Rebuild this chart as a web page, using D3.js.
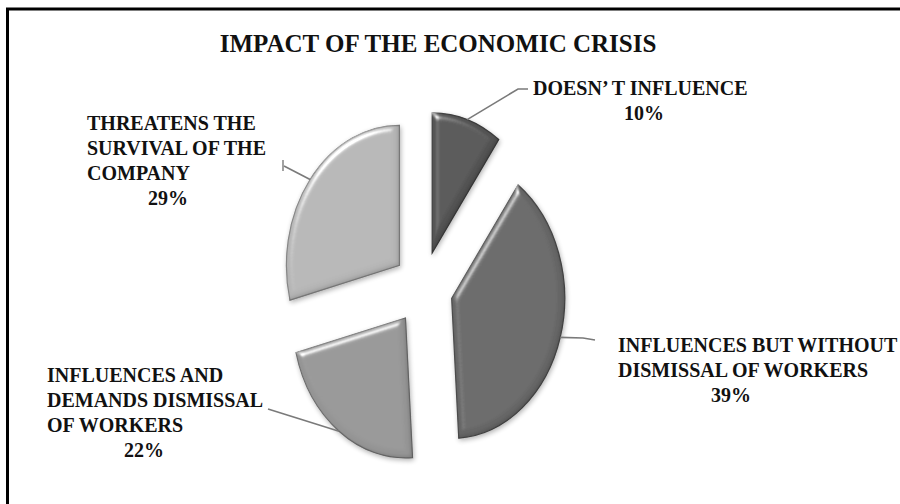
<!DOCTYPE html>
<html>
<head>
<meta charset="utf-8">
<script src="https://cdn.jsdelivr.net/npm/d3@7"></script>
<style>
  html, body { margin: 0; padding: 0; background: #fff; }
  svg { display: block; }
  text { font-family: "Liberation Serif", "Times New Roman", serif; font-weight: bold; fill: #111; }
</style>
</head>
<body>
<svg id="chart" width="900" height="504"></svg>
<script>
// ---- data ----
const chartTitle = "IMPACT OF THE ECONOMIC CRISIS";
const categories = [
  "DOESN’ T INFLUENCE",
  "INFLUENCES BUT WITHOUT DISMISSAL OF WORKERS",
  "INFLUENCES AND DEMANDS DISMISSAL OF WORKERS",
  "THREATENS THE SURVIVAL OF THE COMPANY"
];
const labelLines = [
  ["DOESN’ T INFLUENCE"],
  ["INFLUENCES BUT WITHOUT", "DISMISSAL OF WORKERS"],
  ["INFLUENCES AND", "DEMANDS DISMISSAL", "OF WORKERS"],
  ["THREATENS THE", "SURVIVAL OF THE", "COMPANY"]
];
const values = [10, 39, 22, 29];
const percentLabels = ["10%", "39%", "22%", "29%"];

// ---- layout / style ----
const W = 900, H = 504;
const cx = 423, cy = 288;          // pie centre
const ry = 140, rx = 113;          // oval pie radii
const sx = rx / ry;
const explode = 37;                // slice pull-out distance
const sliceColors = ["#555555", "#676767", "#969696", "#b6b6b6"];
const lineGap = 25;
// left edge / first baseline of each label block, centre of its percentage, leader bends
const labelLayout = [
  { x: 533, y: 95,  pctX: 644, bends: [[518, 89], [528, 89]] },
  { x: 618, y: 352, pctX: 731, bends: [[583, 338], [595, 340]] },
  { x: 47,  y: 382, pctX: 144, bends: [[268, 409]] },
  { x: 87,  y: 130, pctX: 168, bends: [[284, 166]] }
];

const svg = d3.select("#chart");

// bevel: top-left highlight, bottom-right inner rim shade, soft drop shadow
const defs = svg.append("defs");
const f = defs.append("filter").attr("id", "bevel")
  .attr("x", "-20%").attr("y", "-20%").attr("width", "140%").attr("height", "140%");
f.append("feGaussianBlur").attr("in", "SourceAlpha").attr("stdDeviation", 3.5).attr("result", "blur");
const spec = f.append("feSpecularLighting").attr("in", "blur")
  .attr("surfaceScale", 4).attr("specularConstant", 0.75).attr("specularExponent", 40)
  .attr("lighting-color", "#ffffff").attr("result", "spec");
spec.append("feDistantLight").attr("azimuth", 235).attr("elevation", 40);
f.append("feComposite").attr("in", "spec").attr("in2", "SourceAlpha").attr("operator", "in").attr("result", "specIn");
f.append("feComposite").attr("in", "SourceGraphic").attr("in2", "specIn")
  .attr("operator", "arithmetic").attr("k1", 0).attr("k2", 1).attr("k3", 1).attr("k4", 0).attr("result", "lit");
// inner rim shade
f.append("feGaussianBlur").attr("in", "SourceAlpha").attr("stdDeviation", 2).attr("result", "b2");
f.append("feOffset").attr("in", "b2").attr("dx", -2.5).attr("dy", -2.5).attr("result", "b2o");
f.append("feComposite").attr("in", "SourceAlpha").attr("in2", "b2o").attr("operator", "out").attr("result", "rim");
f.append("feFlood").attr("flood-color", "#000").attr("flood-opacity", 0.35).attr("result", "fl");
f.append("feComposite").attr("in", "fl").attr("in2", "rim").attr("operator", "in").attr("result", "rimShade");
// drop shadow
f.append("feGaussianBlur").attr("in", "SourceAlpha").attr("stdDeviation", 2.5).attr("result", "sh");
f.append("feOffset").attr("in", "sh").attr("dx", 1).attr("dy", 2).attr("result", "shOff");
const ct = f.append("feComponentTransfer").attr("in", "shOff").attr("result", "shFaint");
ct.append("feFuncA").attr("type", "linear").attr("slope", 0.3);
const merge = f.append("feMerge");
merge.append("feMergeNode").attr("in", "shFaint");
merge.append("feMergeNode").attr("in", "lit");
merge.append("feMergeNode").attr("in", "rimShade");

// frame
svg.append("rect").attr("x", 7.5).attr("y", 9).attr("width", 1000).attr("height", 1000)
  .attr("fill", "#fff").attr("stroke", "#000").attr("stroke-width", 3);

// title
svg.append("text")
  .attr("x", 438).attr("y", 52)
  .attr("text-anchor", "middle")
  .attr("font-size", 25)
  .text(chartTitle);

// pie
const pie = d3.pie().sort(null).value(d => d)(values);
const arcGen = d3.arc().innerRadius(0).outerRadius(ry);

const slices = pie.map((d, i) => {
  const mid = (d.startAngle + d.endAngle) / 2;
  const ox = cx + explode * sx * Math.sin(mid);
  const oy = cy - explode * Math.cos(mid);
  return { d, i, mid, ox, oy,
    outer: [ox + rx * Math.sin(mid), oy - ry * Math.cos(mid)] };
});

const sliceG = svg.append("g").selectAll("g.slice").data(slices).join("g")
  .attr("class", "slice")
  .attr("filter", "url(#bevel)");
sliceG.append("path")
  .attr("transform", s => `translate(${s.ox},${s.oy}) scale(${sx},1)`)
  .attr("d", s => arcGen(s.d))
  .attr("fill", s => sliceColors[s.i])
  .attr("stroke", s => d3.color(sliceColors[s.i]).darker(0.8))
  .attr("stroke-width", 1.2)
  .attr("vector-effect", "non-scaling-stroke");

// leader lines
const line = d3.line();
svg.append("g").selectAll("path.leader").data(slices).join("path")
  .attr("class", "leader")
  .attr("d", s => line([s.outer, ...labelLayout[s.i].bends]))
  .attr("fill", "none").attr("stroke", "#7a7a7a").attr("stroke-width", 1.6);
// small end tick on the upper-left leader
{
  const b = labelLayout[3].bends[0];
  svg.append("line").attr("x1", b[0] - 1).attr("x2", b[0] - 1).attr("y1", b[1] - 6).attr("y2", b[1] + 5)
    .attr("stroke", "#7a7a7a").attr("stroke-width", 1.4);
}

// labels
const labels = svg.append("g").selectAll("g.label").data(slices).join("g").attr("class", "label");
labels.each(function (s) {
  const g = d3.select(this);
  const L = labelLayout[s.i];
  const lines = labelLines[s.i];
  lines.forEach((t, k) => {
    g.append("text")
      .attr("x", L.x).attr("y", L.y + k * lineGap)
      .attr("font-size", 20)
      .text(t);
  });
  g.append("text")
    .attr("x", L.pctX).attr("y", L.y + lines.length * lineGap)
    .attr("text-anchor", "middle")
    .attr("font-size", 20)
    .text(percentLabels[s.i]);
});
</script>
</body>
</html>
